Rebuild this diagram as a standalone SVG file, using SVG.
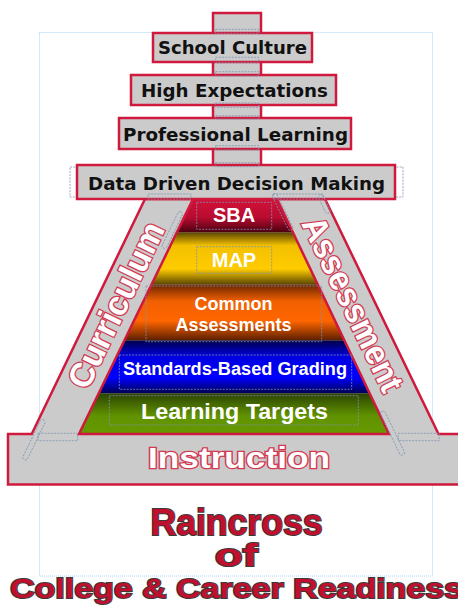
<svg xmlns="http://www.w3.org/2000/svg" width="458" height="609" viewBox="0 0 458 609">
  <defs>
    <style>
      .box { fill: #cbcbcb; stroke: #cf1a3e; stroke-width: 2.5; }
      .frame { fill: #cbcbcb; stroke: #cf1a3e; stroke-width: 2.5; stroke-linejoin: miter; }
      .lbl { font-family: "DejaVu Sans", Verdana, sans-serif; font-weight: bold; font-size: 18px; fill: #111; text-anchor: middle; }
      .layer { font-family: "Liberation Sans", Arial, sans-serif; font-weight: bold; fill: #fff; text-anchor: middle; }
      .outline { font-family: "Liberation Sans", Arial, sans-serif; font-weight: bold; fill: #fff; stroke: #d23a52; stroke-width: 2.6; paint-order: stroke; text-anchor: middle; }
      .title { font-family: "Liberation Sans", Arial, sans-serif; font-weight: bold; fill: #c1102e; stroke: #3a3a3a; stroke-width: 2; paint-order: stroke; text-anchor: middle; }
      .sel { fill: none; stroke: #7f94b0; stroke-width: 0.8; stroke-dasharray: 2 1.2; }
    </style>
    <linearGradient id="gSBA" x1="0" y1="0" x2="0" y2="1">
      <stop offset="0" stop-color="#d41038"/>
      <stop offset="0.55" stop-color="#b80c30"/>
      <stop offset="1" stop-color="#4a0010"/>
    </linearGradient>
    <linearGradient id="gMAP" x1="0" y1="0" x2="0" y2="1">
      <stop offset="0" stop-color="#5c4600"/>
      <stop offset="0.25" stop-color="#f2c000"/>
      <stop offset="0.7" stop-color="#ffcc00"/>
      <stop offset="1" stop-color="#5a4600"/>
    </linearGradient>
    <linearGradient id="gCA" x1="0" y1="0" x2="0" y2="1">
      <stop offset="0" stop-color="#6a2600"/>
      <stop offset="0.3" stop-color="#f26000"/>
      <stop offset="0.65" stop-color="#ff6600"/>
      <stop offset="1" stop-color="#5a1e00"/>
    </linearGradient>
    <linearGradient id="gSBG" x1="0" y1="0" x2="0" y2="1">
      <stop offset="0" stop-color="#00004a"/>
      <stop offset="0.3" stop-color="#0000e0"/>
      <stop offset="0.7" stop-color="#0000ff"/>
      <stop offset="1" stop-color="#000050"/>
    </linearGradient>
    <linearGradient id="gLT" x1="0" y1="0" x2="0" y2="1">
      <stop offset="0" stop-color="#2c4400"/>
      <stop offset="0.55" stop-color="#619300"/>
      <stop offset="1" stop-color="#669900"/>
    </linearGradient>
    <clipPath id="pyr">
      <polygon points="193,199 277,199 389,434 79,434"/>
    </clipPath>
  </defs>

  <!-- page guide -->
  <rect x="39.5" y="32.5" width="393" height="543.5" fill="none" stroke="#a9d2f2" stroke-width="1" stroke-dasharray="1 1"/>

  <!-- vertical spine behind the stacked labels -->
  <g id="spine">
    <rect class="box" x="213" y="13" width="48" height="154"/>
  </g>

  <!-- A-frame: two legs and the base -->
  <g id="aframe">
    <path class="frame" d="M8,434 L31.7,434 L145,199 L325,199 L438.5,434 L470,434 L470,484.5 L8,484.5 Z"/>
  </g>

  <!-- pyramid layers -->
  <g id="pyramid" clip-path="url(#pyr)">
    <rect x="70" y="199" width="330" height="33.5" fill="url(#gSBA)"/>
    <rect x="70" y="232.5" width="330" height="52" fill="url(#gMAP)"/>
    <rect x="70" y="284.5" width="330" height="56" fill="url(#gCA)"/>
    <rect x="70" y="340.5" width="330" height="53" fill="url(#gSBG)"/>
    <rect x="70" y="393.5" width="330" height="41" fill="url(#gLT)"/>
  </g>
  <polygon points="193,199 277,199 389,434 79,434" fill="none" stroke="#cf1a3e" stroke-width="2.5"/>

  <g id="sba"><rect class="sel" x="196.7" y="202.3" width="75" height="27"/><text class="layer" x="234" y="222" font-size="20">SBA</text></g>
  <g id="map"><rect class="sel" x="196.7" y="246.7" width="75" height="26.6"/><text class="layer" x="234" y="267" font-size="20">MAP</text></g>
  <g id="common-assessments"><rect class="sel" x="146" y="286" width="175.7" height="55.7"/>
    <text class="layer" x="233.5" y="309.5" font-size="18">Common</text>
    <text class="layer" x="233.5" y="330.5" font-size="18">Assessments</text></g>
  <g id="standards-based-grading"><rect class="sel" x="119.3" y="355" width="232.4" height="34.3"/><text class="layer" x="235" y="375" font-size="18" textLength="224" lengthAdjust="spacingAndGlyphs">Standards-Based Grading</text></g>
  <g id="learning-targets"><rect class="sel" x="109.3" y="395.7" width="249" height="29.3"/><text class="layer" x="234.5" y="418.8" font-size="22" textLength="187" lengthAdjust="spacingAndGlyphs">Learning Targets</text></g>

  <!-- stacked labels -->
  <g id="school-culture">
    <rect class="box" x="153" y="33" width="159" height="29"/>
    <text class="lbl" x="232.5" y="54" textLength="149" lengthAdjust="spacingAndGlyphs">School Culture</text>
  </g>
  <g id="high-expectations">
    <rect class="box" x="131" y="75" width="205" height="30"/>
    <text class="lbl" x="234.5" y="96.5" textLength="187" lengthAdjust="spacingAndGlyphs">High Expectations</text>
  </g>
  <g id="professional-learning">
    <rect class="box" x="119" y="118" width="232" height="31"/>
    <text class="lbl" x="235.5" y="140.5" textLength="225" lengthAdjust="spacingAndGlyphs">Professional Learning</text>
  </g>
  <g id="data-driven">
    <rect class="sel" x="70" y="167" width="333" height="30"/>
    <rect class="box" x="77" y="165" width="318" height="34"/>
    <text class="lbl" x="236.5" y="189.5" textLength="297" lengthAdjust="spacingAndGlyphs">Data Driven Decision Making</text>
  </g>

  <!-- connectors -->
  <g id="connectors">
    <rect class="sel" x="215.7" y="29.3" width="43" height="4"/>
    <rect class="sel" x="215.7" y="57.3" width="43" height="5"/>
    <rect class="sel" x="215.7" y="71.7" width="43" height="4.3"/>
    <rect class="sel" x="215.7" y="103" width="43" height="4.3"/>
    <rect class="sel" x="215.7" y="115.7" width="43" height="3.3"/>
    <rect class="sel" x="215.7" y="145.7" width="43" height="4.3"/>
    <rect class="sel" x="215.7" y="162.7" width="43" height="4"/>
    <rect class="sel" x="148" y="194" width="43" height="5"/>
    <rect class="sel" x="273" y="194" width="50" height="5"/>
    <rect class="sel" x="-2.5" y="0" width="5" height="40" rx="2" transform="translate(181,212) rotate(25.8)"/>
    <rect class="sel" x="-2.5" y="0" width="5" height="40" rx="2" transform="translate(274,194) rotate(-25.8)"/>
    <rect class="sel" x="-2.5" y="0" width="5" height="20" rx="2" transform="translate(320,195) rotate(-25.8)"/>
    <rect class="sel" x="38" y="433.3" width="39.7" height="7.4"/>
    <rect class="sel" x="-2.5" y="0" width="5" height="44" rx="2" transform="translate(43.5,420) rotate(25.8)"/>
    <rect class="sel" x="398.3" y="433.3" width="41" height="7.4"/>
    <rect class="sel" x="-2.5" y="0" width="5" height="48" rx="2" transform="translate(382,411.5) rotate(-25.8)"/>
  </g>

  <!-- frame labels -->
  <g id="curriculum">
    <text class="outline" font-size="34" textLength="180" lengthAdjust="spacingAndGlyphs" x="0" y="9.5" transform="translate(118,306) rotate(-64.3)">Curriculum</text>
  </g>
  <g id="assessment">
    <text class="outline" font-size="34" textLength="190" lengthAdjust="spacingAndGlyphs" x="0" y="9.5" transform="translate(351,305) rotate(64.2)">Assessment</text>
  </g>
  <g id="instruction">
    <text class="outline" x="239" y="468.3" font-size="30" textLength="182" lengthAdjust="spacingAndGlyphs">Instruction</text>
  </g>

  <!-- title -->
  <g id="title">
    <text class="title" x="236.5" y="535" font-size="36" textLength="172" lengthAdjust="spacingAndGlyphs">Raincross</text>
    <text class="title" x="236.3" y="566" font-size="32" textLength="43" lengthAdjust="spacingAndGlyphs">of</text>
    <text class="title" x="236.5" y="598.3" font-size="28" textLength="453" lengthAdjust="spacingAndGlyphs">College &amp; Career Readiness</text>
  </g>
</svg>
